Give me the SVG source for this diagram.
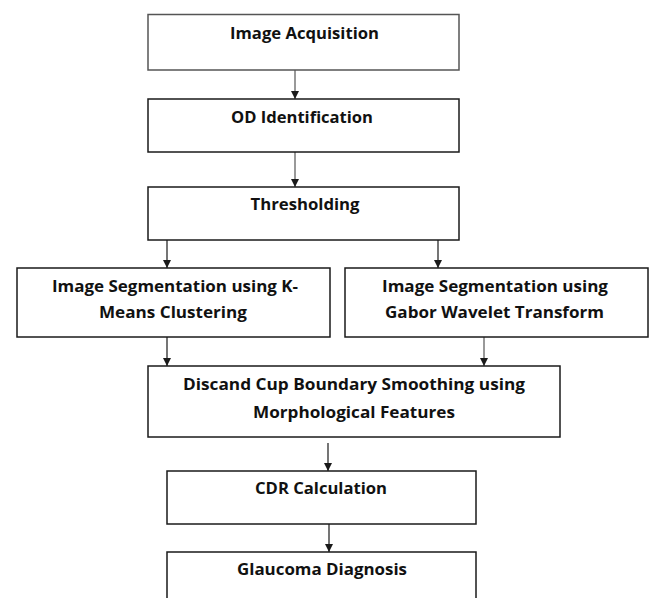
<svg xmlns="http://www.w3.org/2000/svg" width="649" height="598" viewBox="0 0 649 598">
<style>
.box{fill:#fff;stroke:#1a1a1a;stroke-width:1.5}
.t{font-family:"Open Sans","Liberation Sans",Arial,sans-serif;font-weight:bold;font-size:16px;fill:#111;text-anchor:middle}
.c{stroke:#1a1a1a;stroke-width:1.2;fill:none;marker-end:url(#ah)}
.g{stroke:#555}
</style>
<defs>
<marker id="ah" markerUnits="userSpaceOnUse" markerWidth="9" markerHeight="9" refX="8" refY="4" orient="auto">
<path d="M0,0 L8,4 L0,8 z" fill="#1a1a1a"/>
</marker>
</defs>
<rect width="649" height="598" fill="#fff"/>
<g id="connectors">
<line class="c g" x1="295" y1="70" x2="295" y2="99"/>
<line class="c g" x1="295" y1="152" x2="295" y2="187"/>
<line class="c" x1="167" y1="240" x2="167" y2="268"/>
<line class="c" x1="438" y1="240" x2="438" y2="268"/>
<line class="c" x1="167" y1="337" x2="167" y2="366"/>
<line class="c g" x1="484" y1="337" x2="484" y2="366"/>
<line class="c" x1="328" y1="443" x2="328" y2="471"/>
<line class="c" x1="329" y1="524" x2="329" y2="552"/>
</g>
<g id="acquisition">
<rect class="box" x="148" y="14.5" width="311" height="55.5" style="stroke:#555"/>
<text class="t" x="304.5" y="39" textLength="149" lengthAdjust="spacingAndGlyphs">Image Acquisition</text>
</g>
<g id="od">
<rect class="box" x="148" y="99" width="311" height="53"/>
<text class="t" x="302" y="123" textLength="142" lengthAdjust="spacingAndGlyphs">OD Identification</text>
</g>
<g id="threshold">
<rect class="box" x="148" y="187" width="311" height="53"/>
<text class="t" x="305" y="210" textLength="109" lengthAdjust="spacingAndGlyphs">Thresholding</text>
</g>
<g id="kmeans">
<rect class="box" x="17" y="268" width="313" height="69"/>
<text class="t" x="175" y="292" textLength="246" lengthAdjust="spacingAndGlyphs">Image Segmentation using K-</text>
<text class="t" x="173" y="318" textLength="148" lengthAdjust="spacingAndGlyphs">Means Clustering</text>
</g>
<g id="gabor">
<rect class="box" x="345" y="268" width="303" height="69"/>
<text class="t" x="495" y="292" textLength="226" lengthAdjust="spacingAndGlyphs">Image Segmentation using</text>
<text class="t" x="494.5" y="318" textLength="219" lengthAdjust="spacingAndGlyphs">Gabor Wavelet Transform</text>
</g>
<g id="smoothing">
<rect class="box" x="148" y="366" width="412" height="71"/>
<text class="t" x="354" y="390" textLength="342" lengthAdjust="spacingAndGlyphs">Discand Cup Boundary Smoothing using</text>
<text class="t" x="354" y="418" textLength="202" lengthAdjust="spacingAndGlyphs">Morphological Features</text>
</g>
<g id="cdr">
<rect class="box" x="167" y="471" width="309" height="53"/>
<text class="t" x="321" y="494" textLength="132" lengthAdjust="spacingAndGlyphs">CDR Calculation</text>
</g>
<g id="diagnosis">
<rect class="box" x="167" y="552" width="309" height="60"/>
<text class="t" x="322" y="575" textLength="170" lengthAdjust="spacingAndGlyphs">Glaucoma Diagnosis</text>
</g>
</svg>
